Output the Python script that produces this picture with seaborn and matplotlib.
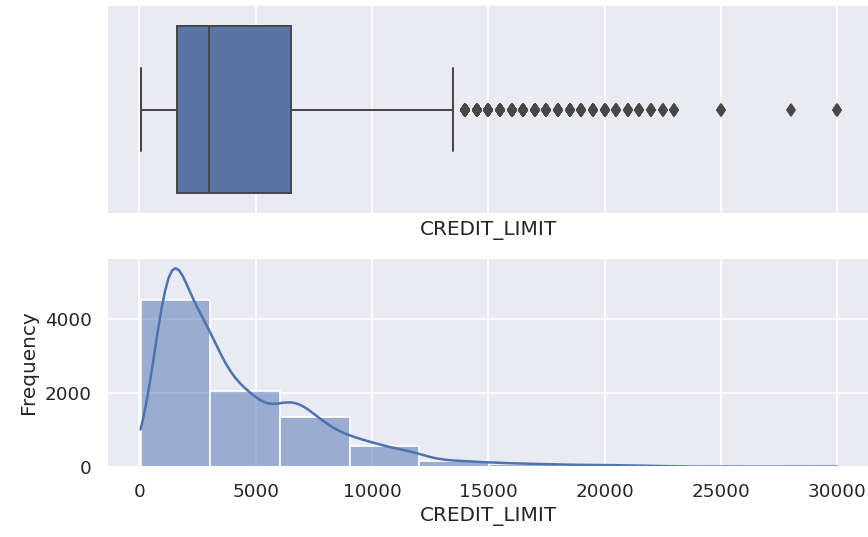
import numpy as np
import pandas as pd
import seaborn as sns
import matplotlib
matplotlib.use("Agg")
import matplotlib.pyplot as plt

# Credit-limit levels and how many accounts sit at each level
limit_levels = [50, 300, 500, 800, 1000, 1200, 1500, 1600, 2000, 2500, 3000,
                3500, 4000, 4500, 5000, 5500, 6000,
                6500, 7000, 7500, 8000, 8500, 9000,
                9500, 10000, 10500, 11000, 11500, 12000,
                12500, 13000, 13500, 14000, 14500, 15000,
                15500, 16000, 16500, 17000, 17500, 18000,
                18500, 19000, 19500, 20000, 20500, 21000,
                21500, 22000, 22500, 23000,
                25000, 28000, 30000]
limit_counts = [10, 40, 150, 150, 550, 550, 680, 300, 700, 700, 690,
                450, 400, 350, 330, 230, 290,
                320, 290, 240, 190, 160, 140,
                125, 110, 95, 80, 75, 65,
                35, 30, 28, 25, 22, 20,
                17, 15, 14, 13, 11, 10,
                9, 8, 7, 9, 6, 6,
                5, 4, 3, 3,
                2, 1, 2]

credit_limit = np.repeat(limit_levels, limit_counts)
df = pd.DataFrame({"CREDIT_LIMIT": credit_limit})

sns.set_theme(style="darkgrid")
plt.rcParams['font.family'] = ['DejaVu Sans']

DPI = 120
fig = plt.figure(figsize=(868 / DPI, 537 / DPI), dpi=DPI)
W, H = 868, 537
ax1 = fig.add_axes([107.3 / W, 1 - 214 / H, (870 - 107.3) / W, 209 / H])
ax2 = fig.add_axes([107.3 / W, 1 - 466.7 / H, (870 - 107.3) / W, 208.4 / H], sharex=ax1)

sns.boxplot(data=df, x="CREDIT_LIMIT", ax=ax1, color="C0", saturation=0.75,
            linecolor="#474747", linewidth=1.2, fliersize=5.5,
            flierprops=dict(marker="d", markerfacecolor="#474747",
                            markeredgecolor="#474747"))
plt.setp(ax1.get_xticklabels(), visible=False)
ax1.set_xlabel("CREDIT_LIMIT")

sns.histplot(data=df, x="CREDIT_LIMIT", bins=10, kde=True, ax=ax2, color="C0")
ax2.set_ylabel("Frequency")
ax2.set_xlabel("CREDIT_LIMIT")
ax2.set_xlim(-1380, 31410)

fig.savefig("out.png", dpi=DPI)
